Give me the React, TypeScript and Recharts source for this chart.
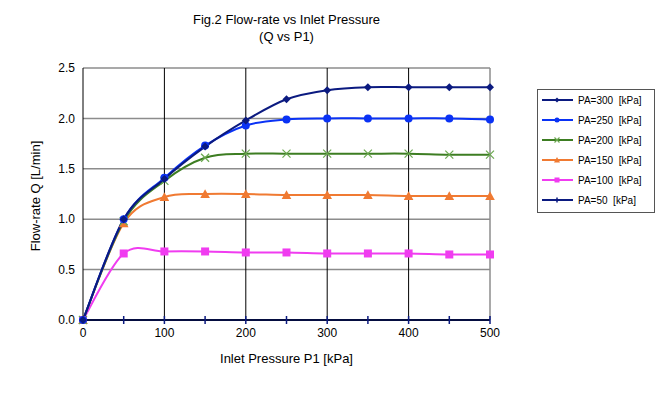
import { LineChart, Line, XAxis, YAxis, CartesianGrid, ReferenceLine } from "recharts";

const pressures = [0, 50, 100, 150, 200, 250, 300, 350, 400, 450, 500];
const pa300 = [0, 1.0, 1.4, 1.72, 1.98, 2.19, 2.28, 2.31, 2.31, 2.31, 2.31];
const pa250 = [0, 1.0, 1.41, 1.73, 1.93, 1.99, 2.0, 2.0, 2.0, 2.0, 1.99];
const pa200 = [0, 0.98, 1.38, 1.61, 1.65, 1.65, 1.65, 1.65, 1.65, 1.64, 1.64];
const pa150 = [0, 0.96, 1.22, 1.25, 1.25, 1.24, 1.24, 1.24, 1.23, 1.23, 1.23];
const pa100 = [0, 0.66, 0.68, 0.68, 0.67, 0.67, 0.66, 0.66, 0.66, 0.65, 0.65];
const pa50 = [0, 0, 0, 0, 0, 0, 0, 0, 0, 0, 0];
const xTicks = [0, 100, 200, 300, 400, 500];
const yTicks = [0, 0.5, 1.0, 1.5, 2.0, 2.5];

const data = pressures.map((p, i) => ({
  p,
  pa300: pa300[i],
  pa250: pa250[i],
  pa200: pa200[i],
  pa150: pa150[i],
  pa100: pa100[i],
  pa50: pa50[i],
}));

// excel style smoothing (catmull-rom as bezier)
const excelCurve = (context: any) => {
  let pts: number[][] = [];
  return {
    areaStart() {},
    areaEnd() {},
    lineStart() {
      pts = [];
    },
    point(x: number, y: number) {
      pts.push([+x, +y]);
    },
    lineEnd() {
      if (!pts.length) return;
      context.moveTo(pts[0][0], pts[0][1]);
      for (let i = 0; i < pts.length - 1; i++) {
        const p0 = pts[i - 1] || pts[i];
        const p1 = pts[i];
        const p2 = pts[i + 1];
        const p3 = pts[i + 2] || p2;
        context.bezierCurveTo(
          p1[0] + (p2[0] - p0[0]) / 6,
          p1[1] + (p2[1] - p0[1]) / 6,
          p2[0] - (p3[0] - p1[0]) / 6,
          p2[1] - (p3[1] - p1[1]) / 6,
          p2[0],
          p2[1]
        );
      }
    },
  };
};

const marker = (shape: string, color: string, cx: number, cy: number, key?: any, s = 4) => {
  if (shape === "diamond")
    return <path key={key} d={`M${cx},${cy - s}L${cx + s},${cy}L${cx},${cy + s}L${cx - s},${cy}Z`} fill={color} />;
  if (shape === "circle") return <circle key={key} cx={cx} cy={cy} r={s} fill={color} />;
  if (shape === "x")
    return (
      <path key={key} d={`M${cx - s},${cy - s}L${cx + s},${cy + s}M${cx - s},${cy + s}L${cx + s},${cy - s}`} stroke={color} strokeWidth={1.2} />
    );
  if (shape === "triangle")
    return <path key={key} d={`M${cx},${cy - s * 1.2}L${cx + s * 1.2},${cy + s}L${cx - s * 1.2},${cy + s}Z`} fill={color} />;
  if (shape === "square") return <rect key={key} x={cx - s} y={cy - s} width={2 * s} height={2 * s} fill={color} />;
  return <path key={key} d={`M${cx},${cy - s}L${cx},${cy + s}`} stroke={color} strokeWidth={1.5} />;
};

const series = [
  { key: "pa300", name: "PA=300  [kPa]", color: "#0b1a80", markColor: "#0b1a80", shape: "diamond" },
  { key: "pa250", name: "PA=250  [kPa]", color: "#0a32f5", markColor: "#0a32f5", shape: "circle" },
  { key: "pa200", name: "PA=200  [kPa]", color: "#3d7d22", markColor: "#6aa84f", shape: "x" },
  { key: "pa150", name: "PA=150  [kPa]", color: "#f07a32", markColor: "#f07a32", shape: "triangle" },
  { key: "pa100", name: "PA=100  [kPa]", color: "#f03cf0", markColor: "#f03cf0", shape: "square" },
  { key: "pa50", name: "PA=50  [kPa]", color: "#0b1a80", markColor: "#0b1a80", shape: "dash" },
];

const LegendBox = () => (
  <div
    style={{
      position: "absolute",
      left: 537,
      top: 89,
      border: "1.5px solid #555",
      width: 118,
      padding: "0 0 2px 0",
      fontFamily: "Liberation Sans, Arial, sans-serif",
      fontSize: 10,
      background: "#fff",
      boxSizing: "border-box",
    }}
  >
    {series.map((s) => (
      <div key={s.key} style={{ display: "flex", alignItems: "center", height: 20 }}>
        <svg width={34} height={12} style={{ marginLeft: 4, marginRight: 2 }}>
          <line x1={0} y1={6} x2={31} y2={6} stroke={s.color} strokeWidth={2} />
          {marker(s.shape, s.markColor, 15, 6, undefined, 2.5)}
        </svg>
        <span style={{ whiteSpace: "pre" }}>{s.name}</span>
      </div>
    ))}
  </div>
);

export default function App() {
  return (
    <div style={{ position: "absolute", left: 0, top: 0, width: 659, height: 396, background: "#fff" }}>
      <div
        style={{
          position: "absolute",
          left: 0,
          width: 573,
          top: 11,
          textAlign: "center",
          fontFamily: "Liberation Sans, Arial, sans-serif",
          fontSize: 13,
          lineHeight: "17px",
        }}
      >
        Fig.2 Flow-rate vs Inlet Pressure
        <br />
        (Q vs P1)
      </div>
      <LineChart
        width={659}
        height={396}
        data={data}
        margin={{ top: 68, right: 169, left: 23, bottom: 46 }}
        style={{ fontFamily: "Liberation Sans, Arial, sans-serif" }}
      >
        <CartesianGrid vertical={false} stroke="#8c8c8c" strokeWidth={1.5} />
        {[100, 200, 300, 400].map((v) => (
          <ReferenceLine key={v} x={v} stroke="#000" strokeWidth={1} />
        ))}
        <ReferenceLine x={500} stroke="#8c8c8c" strokeWidth={1.5} />
        <XAxis
          dataKey="p"
          type="number"
          domain={[0, 500]}
          ticks={xTicks}
          tickLine={false}
          axisLine={{ stroke: "#000" }}
          tick={{ fill: "#000", fontSize: 12 }}
          height={30}
          label={{ value: "Inlet Pressure P1 [kPa]", position: "bottom", offset: 4, fill: "#000", fontSize: 13 }}
        />
        <YAxis
          type="number"
          domain={[0, 2.5]}
          ticks={yTicks}
          tickFormatter={(v: number) => v.toFixed(1)}
          tickLine={false}
          axisLine={{ stroke: "#000" }}
          tick={{ fill: "#000", fontSize: 12 }}
          width={60}
          label={{
            content: () => (
              <text x={37} y={196} transform="rotate(-90 37 196)" textAnchor="middle" fontSize={13} fill="#000" dominantBaseline="middle">
                Flow-rate Q [L/min]
              </text>
            ),
          }}
        />
        {series
          .slice()
          .reverse()
          .map((s) => (
            <Line
              key={s.key}
              dataKey={s.key}
              name={s.name}
              type={excelCurve as any}
              stroke={s.color}
              strokeWidth={2}
              isAnimationActive={false}
              dot={(props: any) => marker(s.shape, s.markColor, props.cx, props.cy, `${s.key}-${props.index}`)}
              activeDot={false}
            />
          ))}
      </LineChart>
      <LegendBox />
    </div>
  );
}
